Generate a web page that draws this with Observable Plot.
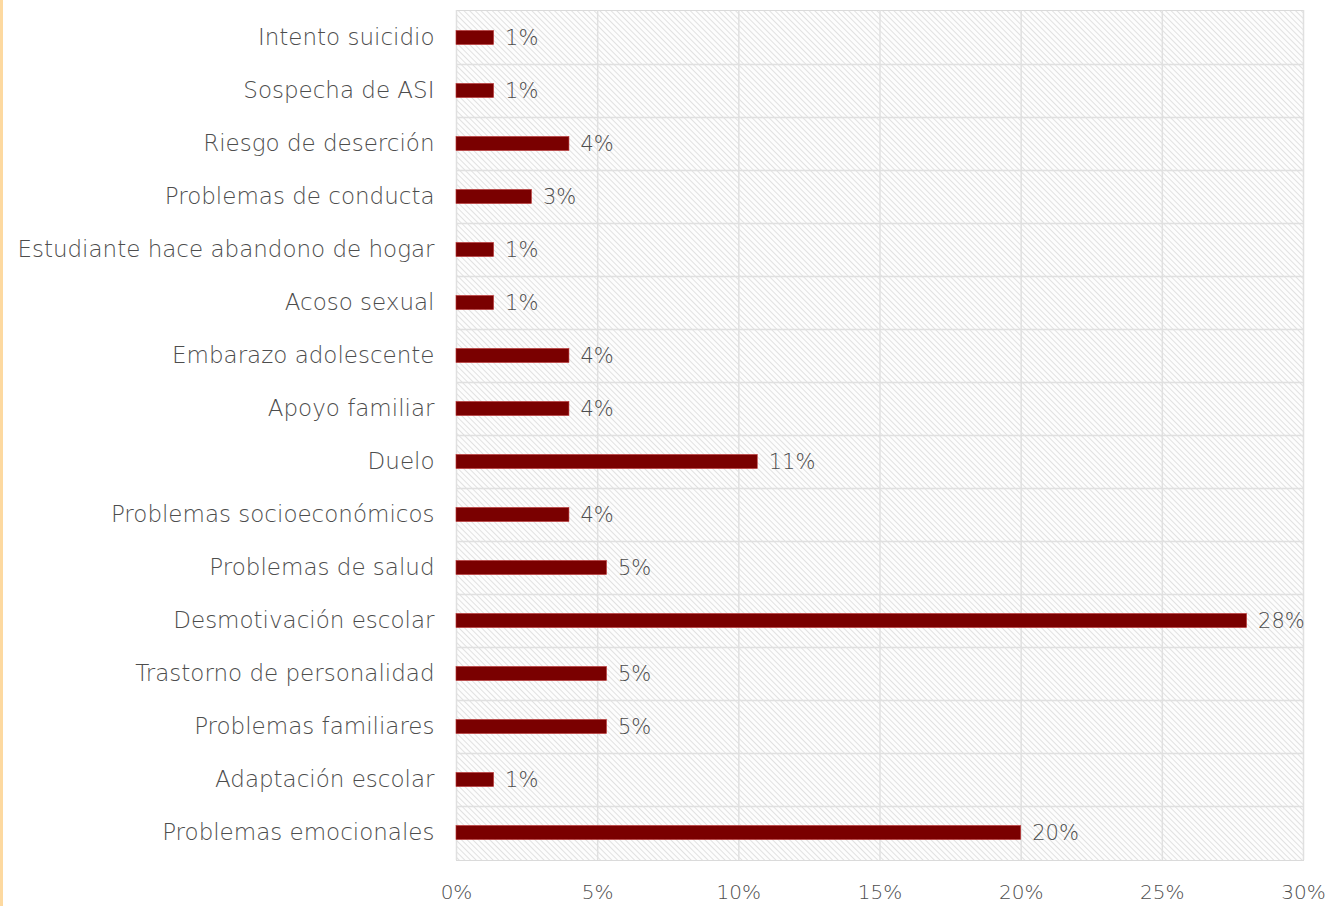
<!DOCTYPE html>
<html>
<head>
<meta charset="utf-8">
<script src="https://cdn.jsdelivr.net/npm/d3@7"></script>
<script src="https://cdn.jsdelivr.net/npm/@observablehq/plot@0.6"></script>
<style>
  html, body { margin: 0; padding: 0; background: #fff; }
  #wrap { position: relative; width: 1326px; height: 906px; overflow: hidden; }
  #edge { position: absolute; left: 0; top: 0; width: 3px; height: 906px; background: #fdd9a0; }
</style>
</head>
<body>
<svg width="0" height="0" style="position:absolute">
  <defs>
    <pattern id="hatch" width="4" height="4" patternUnits="userSpaceOnUse" patternTransform="rotate(-45)">
      <rect width="4" height="4" fill="#fdfdfd"></rect>
      <line x1="0" y1="0" x2="0" y2="4" stroke="#d2d2d2" stroke-width="1.3"></line>
    </pattern>
  </defs>
</svg>
<div id="wrap"><div id="edge"></div><div id="chart"></div></div>
<script>
const categories = [
  "Intento suicidio",
  "Sospecha de ASI",
  "Riesgo de deserción",
  "Problemas de conducta",
  "Estudiante hace abandono de hogar",
  "Acoso sexual",
  "Embarazo adolescente",
  "Apoyo familiar",
  "Duelo",
  "Problemas socioeconómicos",
  "Problemas de salud",
  "Desmotivación escolar",
  "Trastorno de personalidad",
  "Problemas familiares",
  "Adaptación escolar",
  "Problemas emocionales"
];
const values = [1.33, 1.33, 4.0, 2.67, 1.33, 1.33, 4.0, 4.0, 10.67, 4.0, 5.33, 28.0, 5.33, 5.33, 1.33, 20.0];
const xTicks = [0, 5, 10, 15, 20, 25, 30];

const data = categories.map((c, i) => ({category: c, value: values[i]}));

const W = 1326, H = 906;
const mTop = 10, mBottom = 46;
const step = (H - mTop - mBottom) / categories.length;
const font = "'DejaVu Sans', sans-serif";

const chart = Plot.plot({
  width: W,
  height: H,
  marginLeft: 456,
  marginRight: 23,
  marginTop: mTop,
  marginBottom: mBottom,
  style: {fontFamily: font, fontSize: "23px", color: "#4d4d4d", background: "transparent", fontWeight: 300},
  x: {domain: [0, 30], label: null},
  y: {domain: categories, label: null, tickSize: 0, tickPadding: 22, padding: 0},
  marks: [
    Plot.frame({fill: "url(#hatch)", stroke: "#dadada"}),
    Plot.ruleX(xTicks, {stroke: "#e0e0e0", strokeWidth: 1.5}),
    Plot.ruleY(categories.slice(1), {y: d => d, dy: -step / 2, stroke: "#e0e0e0", strokeWidth: 1.5}),
    Plot.axisX({ticks: xTicks, tickFormat: d => d + "%", label: null, tickSize: 0, tickPadding: 24, fontSize: 20}),
    Plot.barX(data, {x: "value", y: "category", fill: "#7a0000", stroke: "#b33", strokeWidth: 0.6, insetTop: 19.5, insetBottom: 19.5}),
    Plot.text(data, {x: "value", y: "category", text: d => Math.round(d.value) + "%", textAnchor: "start", dx: 11, fill: "#4d4d4d", fontSize: 21})
  ]
});
document.getElementById("chart").appendChild(chart);
</script>
</body>
</html>
